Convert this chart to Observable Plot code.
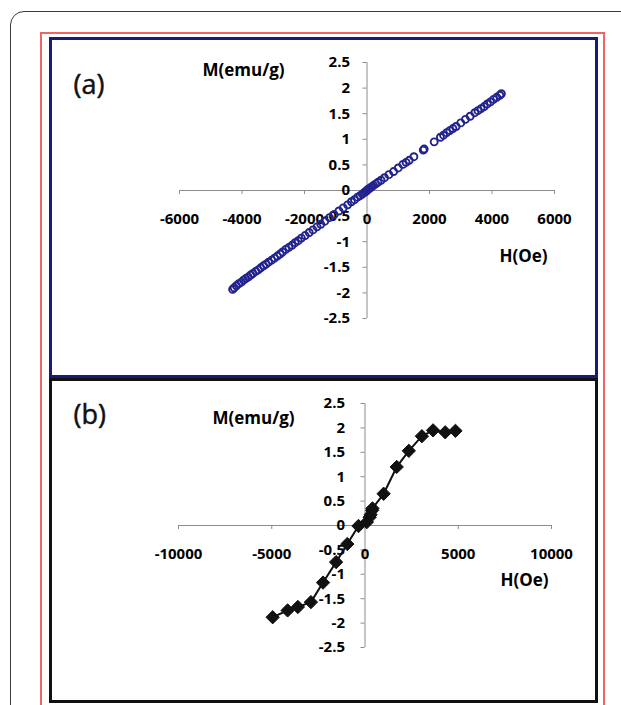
<!DOCTYPE html>
<html><head><meta charset="utf-8">
<script src="https://cdn.jsdelivr.net/npm/d3@7"></script>
<script src="https://cdn.jsdelivr.net/npm/@observablehq/plot@0.6"></script>
<style>
html,body{margin:0;padding:0;background:#fff;width:621px;height:705px;overflow:hidden;position:relative;font-family:"Open Sans",sans-serif}
#outer{position:absolute;left:10px;top:11px;width:720px;height:800px;border:1.5px solid #3a3a3a;border-radius:14px}
#red{position:absolute;left:40px;top:32px;width:561px;height:800px;border:2px solid #ef6464}
#pa{position:absolute;left:49px;top:37px;width:549px;height:341px;border:3px solid #1a1a78;box-sizing:border-box}
#pb{position:absolute;left:49px;top:378px;width:549px;height:325px;border:3px solid #111;box-sizing:border-box}
.chart{position:absolute}
</style></head>
<body>
<div id="outer"></div>
<div id="red"></div>
<div id="pa"></div>
<div id="pb"></div>
<div id="ca" class="chart" style="left:52px;top:40px"></div>
<div id="cb" class="chart" style="left:52px;top:381px"></div>
<script>
// Panel (a): linear M-H data (open circles)
const hA = [-4300,-4250,-4180,-4100,-4020,-3950,-3880,-3800,-3720,-3650,-3560,-3480,-3400,-3310,-3230,-3150,-3050,-2960,-2870,-2780,-2700,-2600,-2500,-2400,-2300,-2200,-2100,-1980,-1850,-1730,-1600,-1480,-1350,-1200,-1050,-900,-760,-620,-500,-400,-300,-220,-150,-90,-40,0,30,60,100,150,210,280,350,450,560,700,850,1000,1150,1250,1350,1500,1800,1830,2150,2350,2450,2550,2650,2750,2850,3000,3150,3300,3450,3550,3650,3750,3850,3950,4050,4150,4250,4300];
const mA = [-1.93,-1.90,-1.86,-1.82,-1.79,-1.75,-1.72,-1.69,-1.65,-1.62,-1.58,-1.55,-1.51,-1.47,-1.44,-1.40,-1.36,-1.32,-1.28,-1.24,-1.20,-1.15,-1.11,-1.07,-1.02,-0.98,-0.93,-0.88,-0.82,-0.77,-0.71,-0.66,-0.60,-0.53,-0.47,-0.40,-0.34,-0.28,-0.22,-0.18,-0.13,-0.10,-0.07,-0.04,-0.02,0.00,0.02,0.03,0.05,0.07,0.10,0.13,0.16,0.20,0.25,0.31,0.37,0.44,0.51,0.55,0.59,0.66,0.79,0.81,0.95,1.04,1.08,1.13,1.17,1.21,1.25,1.32,1.39,1.45,1.52,1.56,1.60,1.64,1.69,1.73,1.78,1.82,1.86,1.89];
// Panel (b): M-H curve (filled diamonds + line)
const hB = [-4950,-4150,-3600,-2900,-2250,-1550,-950,-350,100,250,300,380,400,1000,1700,2350,3050,3650,4300,4850];
const mB = [-1.88,-1.74,-1.67,-1.57,-1.17,-0.75,-0.38,-0.01,0.07,0.17,0.22,0.31,0.35,0.65,1.20,1.53,1.83,1.95,1.91,1.94];
// Axis ticks
const xTicksA = [-6000,-4000,-2000,0,2000,4000,6000];
const xTicksB = [-10000,-5000,0,5000,10000];
const yTicks = [-2.5,-2,-1.5,-1,-0.5,0,0.5,1,1.5,2,2.5];
const yLabel = "M(emu/g)";
const xLabel = "H(Oe)";

const dataA = hA.map((h,i)=>({h, m:mA[i]}));
const dataB = hB.map((h,i)=>({h, m:mB[i]}));
const axisGray = "#8c8c8c";
const tickFont = {fontFamily:"Open Sans", fontWeight:700, fontSize:15};
const titleFont = {fontFamily:"Open Sans", fontWeight:700, fontSize:17};
const panelFont = {fontFamily:"Open Sans", fontSize:27, fill:"#111", stroke:"#111", strokeWidth:0.5};

function axes(xTicks, xDom, yDx){
  return [
    Plot.ruleY([0], {x1: xDom[0], x2: xDom[1], stroke: axisGray}),
    Plot.ruleX([0], {y1: yTicks[0], y2: yTicks[yTicks.length-1], stroke: axisGray}),
    Plot.ruleX(xTicks, {x: d=>d, y1: 0, y2: 0, insetBottom: -4, stroke: axisGray}),
    Plot.ruleY(yTicks, {y: d=>d, x1: 0, x2: 0, insetLeft: -4, stroke: axisGray}),
    Plot.text(xTicks, {x: d=>d, y: 0, dy: 29, text: d=>String(d), ...tickFont}),
    Plot.text(yTicks, {x: 0, y: d=>d, dx: yDx, textAnchor: "end", text: d=>String(d), ...tickFont})
  ];
}

const xDomA = [xTicksA[0], xTicksA[xTicksA.length-1]];
const chartA = Plot.plot({
  width: 543, height: 335,
  marginLeft: 127, marginRight: 41, marginTop: 22, marginBottom: 57,
  style: {background: "transparent", overflow: "visible"},
  x: {domain: xDomA, axis: null},
  y: {domain: [-2.5, 2.5], axis: null},
  marks: [
    ...axes(xTicksA, xDomA, -17),
    Plot.dot(dataA, {x: "h", y: "m", r: 3.5, stroke: "#23238f", strokeWidth: 1.9, fill: "none"}),
    Plot.text(["(a)"], {frameAnchor: "top-left", dx: -106, dy: 23, lineAnchor: "middle", textAnchor: "start", text: d=>d, ...panelFont}),
    Plot.text([yLabel], {frameAnchor: "top-left", dx: 23, dy: 8, lineAnchor: "middle", textAnchor: "start", text: d=>d, ...titleFont}),
    Plot.text([xLabel], {frameAnchor: "top-left", dx: 320, dy: 194, lineAnchor: "middle", textAnchor: "start", text: d=>d, ...titleFont})
  ]
});
document.getElementById("ca").append(chartA);

const xDomB = [xTicksB[0], xTicksB[xTicksB.length-1]];
const chartB = Plot.plot({
  width: 543, height: 319,
  marginLeft: 126, marginRight: 44, marginTop: 22, marginBottom: 53,
  style: {background: "transparent", overflow: "visible"},
  x: {domain: xDomB, axis: null},
  y: {domain: [-2.5, 2.5], axis: null},
  marks: [
    ...axes(xTicksB, xDomB, -20),
    Plot.line(dataB, {x: "h", y: "m", stroke: "#111", strokeWidth: 2}),
    Plot.dot(dataB, {x: "h", y: "m", symbol: "diamond2", r: 6, fill: "#111", stroke: "#111", strokeWidth: 1}),
    Plot.text(["(b)"], {frameAnchor: "top-left", dx: -105, dy: 12, lineAnchor: "middle", textAnchor: "start", text: d=>d, ...panelFont}),
    Plot.text([yLabel], {frameAnchor: "top-left", dx: 34, dy: 15, lineAnchor: "middle", textAnchor: "start", text: d=>d, ...titleFont}),
    Plot.text([xLabel], {frameAnchor: "top-left", dx: 322, dy: 177, lineAnchor: "middle", textAnchor: "start", text: d=>d, ...titleFont})
  ]
});
document.getElementById("cb").append(chartB);
</script>
</body></html>
